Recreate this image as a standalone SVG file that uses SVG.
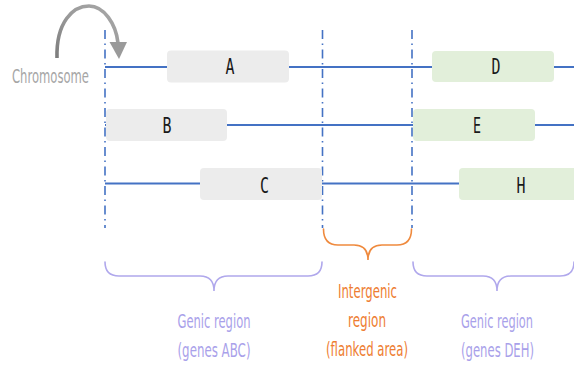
<svg xmlns="http://www.w3.org/2000/svg" width="574" height="368" viewBox="0 0 574 368">
  <style>
    .strand { stroke: #4472c4; stroke-width: 2; fill: none; }
    .boundary { stroke: #4472c4; stroke-width: 1.6; stroke-dasharray: 9 4.5 1.5 4.5; fill: none; }
    .gene-grey { fill: #ececec; }
    .gene-green { fill: #e2efda; }
    .gene-label { font-family: "DejaVu Sans Mono", "Liberation Mono", monospace; font-size: 21px; fill: #1a1a1a; text-anchor: middle; }
    .brace { fill: none; stroke-width: 1.6; stroke-linecap: round; }
    .note { font-family: "DejaVu Sans", "Liberation Sans", sans-serif; font-size: 19px; text-anchor: middle; }
    .purple { stroke: #b0a8ec; }
    .purple-t { fill: #a9a1ea; }
    .orange { stroke: #ef8a3e; }
    .orange-t { fill: #ee7d31; }
  </style>
  <defs>
    <linearGradient id="arcShade" x1="0" y1="1" x2="1" y2="0">
      <stop offset="0" stop-color="#7d7d7d"/>
      <stop offset="0.5" stop-color="#9a9a9a"/>
      <stop offset="1" stop-color="#a8a8a8"/>
    </linearGradient>
  </defs>

  <rect width="574" height="368" fill="#ffffff"/>

  <!-- chromosome label with curved pointer -->
  <g id="chromosome">
    <path d="M57 58 C56 22 73 6 89 6 C104 6 116 24 118 43" fill="none" stroke="url(#arcShade)" stroke-width="3.6"/>
    <polygon points="109.5,42 127,42 119,59" fill="#9a9a9a"/>
    <text x="50.5" y="83" class="note" fill="#a6a6a6" textLength="77" lengthAdjust="spacingAndGlyphs">Chromosome</text>
  </g>

  <!-- strands and region boundaries -->
  <g id="connectors">
    <line x1="105" y1="67" x2="574" y2="67" class="strand"/>
    <line x1="105" y1="125" x2="574" y2="125" class="strand"/>
    <line x1="105" y1="183.5" x2="574" y2="183.5" class="strand"/>
    <line x1="105" y1="30" x2="105" y2="228" class="boundary"/>
    <line x1="322.5" y1="30" x2="322.5" y2="228" class="boundary"/>
    <line x1="412" y1="30" x2="412" y2="228" class="boundary"/>
  </g>

  <!-- genes -->
  <g id="gene-A">
    <rect x="167" y="50.5" width="122" height="32" rx="4" class="gene-grey"/>
    <text x="230" y="74" class="gene-label" textLength="9" lengthAdjust="spacingAndGlyphs">A</text>
  </g>
  <g id="gene-B">
    <rect x="106" y="109" width="121" height="32" rx="4" class="gene-grey"/>
    <text x="167" y="133" class="gene-label" textLength="9" lengthAdjust="spacingAndGlyphs">B</text>
  </g>
  <g id="gene-C">
    <rect x="200" y="168" width="122" height="32" rx="4" class="gene-grey"/>
    <text x="264.5" y="193" class="gene-label" textLength="9" lengthAdjust="spacingAndGlyphs">C</text>
  </g>
  <g id="gene-D">
    <rect x="432" y="51" width="122" height="31" rx="4" class="gene-green"/>
    <text x="496" y="74" class="gene-label" textLength="9" lengthAdjust="spacingAndGlyphs">D</text>
  </g>
  <g id="gene-E">
    <rect x="413" y="109" width="122" height="32" rx="4" class="gene-green"/>
    <text x="477" y="133" class="gene-label" textLength="8" lengthAdjust="spacingAndGlyphs">E</text>
  </g>
  <g id="gene-H">
    <rect x="459" y="168" width="125" height="32" rx="4" class="gene-green"/>
    <text x="521" y="193" class="gene-label" textLength="9" lengthAdjust="spacingAndGlyphs">H</text>
  </g>

  <!-- region braces and captions -->
  <g id="genic-left">
    <path d="M105 262 Q105 276 119 276 L200 276 Q214 276 214 291 Q214 276 228 276 L308 276 Q322 276 322 262" class="brace purple"/>
    <text x="214" y="328" class="note purple-t" textLength="73" lengthAdjust="spacingAndGlyphs">Genic region</text>
    <text x="214" y="357" class="note purple-t" textLength="73" lengthAdjust="spacingAndGlyphs">(genes ABC)</text>
  </g>
  <g id="intergenic">
    <path d="M323.5 229 Q323.5 245 338 245 L354 245 Q368 245 368 260 Q368 245 382 245 L397 245 Q411.5 245 411.5 229" class="brace orange"/>
    <text x="367.5" y="298" class="note orange-t" textLength="59" lengthAdjust="spacingAndGlyphs">Intergenic</text>
    <text x="367" y="327" class="note orange-t" textLength="38" lengthAdjust="spacingAndGlyphs">region</text>
    <text x="367" y="356" class="note orange-t" textLength="82" lengthAdjust="spacingAndGlyphs">(flanked area)</text>
  </g>
  <g id="genic-right">
    <path d="M413 262 Q413 276 427 276 L483 276 Q497 276 497 291 Q497 276 511 276 L560 276 Q574 276 574 262" class="brace purple"/>
    <text x="497" y="328" class="note purple-t" textLength="72" lengthAdjust="spacingAndGlyphs">Genic region</text>
    <text x="497.5" y="357" class="note purple-t" textLength="73" lengthAdjust="spacingAndGlyphs">(genes DEH)</text>
  </g>
</svg>
